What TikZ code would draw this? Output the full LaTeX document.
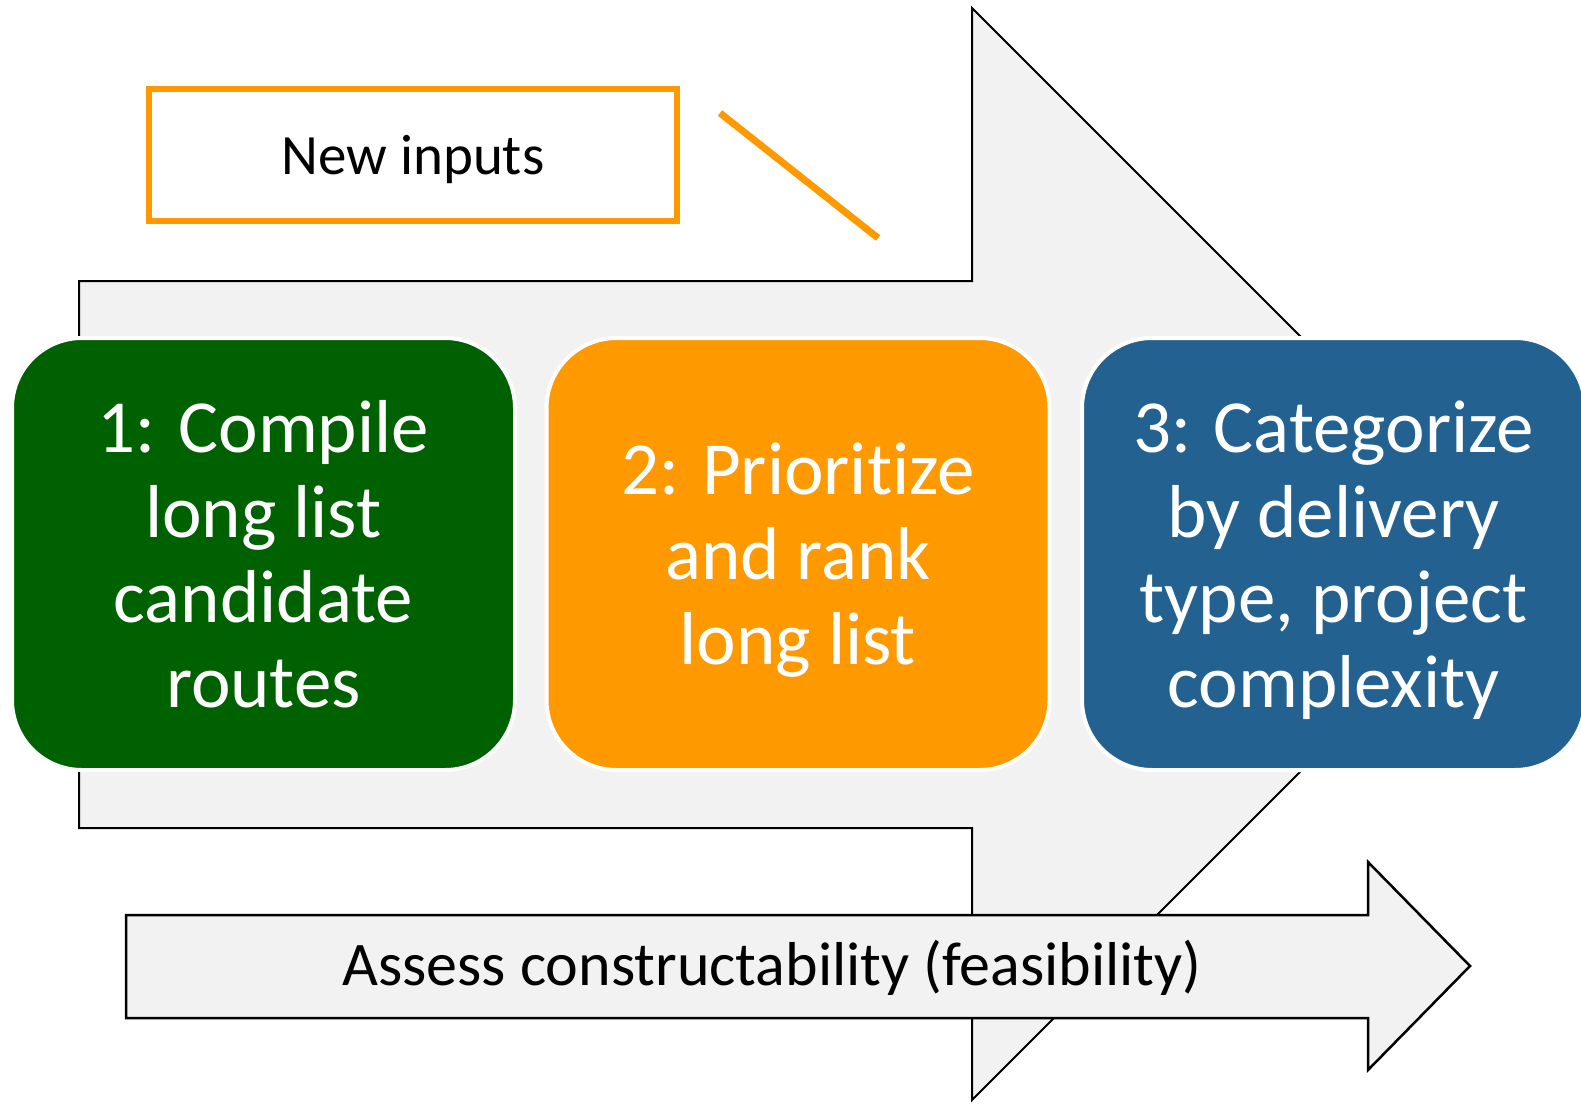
\documentclass[tikz,border=0pt]{standalone}
\usepackage{fontspec}
\setmainfont{Carlito}[Ligatures={NoCommon,NoContextual}]
\definecolor{boxgreen}{RGB}{0,97,0}
\definecolor{boxorange}{RGB}{255,153,0}
\definecolor{boxblue}{RGB}{35,97,145}
\definecolor{arrowgray}{RGB}{242,242,242}
\tikzset{
  stepbox/.style={draw=white, line width=4pt, rounded corners=70pt,
    minimum width=503pt, minimum height=432pt, inner sep=0pt, text depth=0pt,
    align=center, text=white, font=\fontsize{75}{85}\selectfont},
  bigarrow/.style={draw=black, line width=2pt, fill=arrowgray, line join=miter},
  inputbox/.style={draw=boxorange, line width=6pt, fill=white,
    minimum width=528pt, minimum height=132pt, inner sep=0pt, text depth=0pt,
    font=\fontsize{57}{68}\selectfont},
  orangeline/.style={draw=boxorange, line width=7pt}
}
\begin{document}
\begin{tikzpicture}[x=1pt,y=-1pt]
\begin{scope}
\clip (0,0) rectangle (1581,1108);
% big background arrow
\draw[bigarrow] (79,281) -- (972,281) -- (972,8) -- (1518,554) -- (972,1100)
  -- (972,828) -- (79,828) -- cycle;
% bottom arrow
\draw[bigarrow, line width=2.5pt] (126,915) -- (1368,915) -- (1368,862) -- (1470,966)
  -- (1368,1070) -- (1368,1018) -- (126,1018) -- cycle;
\node[font=\fontsize{62}{74}\selectfont, inner sep=0pt] (assess) at (772,968)
  {Assess constructability (feasibility)};
% step boxes
\node[stepbox, fill=boxgreen] (s1) at (263.5,554)
  {1: Compile\\long list\\candidate\\routes};
\node[stepbox, fill=boxorange] (s2) at (798,554)
  {2: Prioritize\\and rank\\long list};
\node[stepbox, fill=boxblue] (s3) at (1333.5,554)
  {3: Categorize\\by delivery\\type, project\\complexity};
% new inputs
\node[inputbox] (inputs) at (413,155) {New inputs};
\coordinate (l1) at (720,113);
\coordinate (l2) at (878,238);
\draw[orangeline] (l1) -- (l2);
\end{scope}
\pgfresetboundingbox
\useasboundingbox (0,0) rectangle (1581,1108);
\end{tikzpicture}
\end{document}
